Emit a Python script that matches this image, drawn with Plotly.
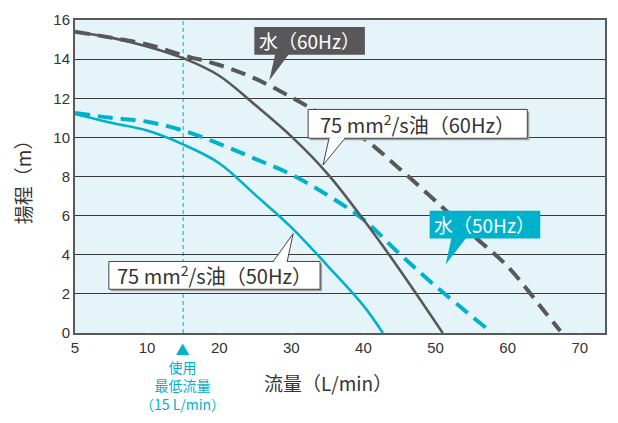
import plotly.graph_objects as go

# ---- data (flow L/min, head m) ----
water60_flow = [5, 7.5, 10, 15, 20, 25, 30, 35, 40, 45, 50, 55, 60, 65, 67.3]
water60_head = [15.4, 15.1, 14.75, 14.2, 13.7, 13.0, 12.05, 11.0, 9.95, 8.4, 6.75, 5.05, 3.4, 1.15, 0.1]

oil60_flow = [5, 7.5, 10, 15, 20, 25, 30, 35, 40, 45, 51]
oil60_head = [15.4, 15.1, 14.65, 14.05, 13.15, 11.65, 10.05, 8.15, 5.8, 3.25, 0]

water50_flow = [5, 7.5, 10, 15, 20, 25, 30, 35, 40, 45, 50, 57.2]
water50_head = [11.25, 11.0, 10.8, 10.35, 9.67, 8.9, 8.1, 7.05, 5.8, 4.05, 2.4, 0.2]

oil50_flow = [5, 7.5, 10, 15, 20, 25, 30, 35, 40, 42.7]
oil50_head = [11.2, 10.75, 10.35, 9.64, 8.68, 7.06, 5.4, 3.45, 1.4, 0]

x_ticks = [5, 10, 20, 30, 40, 50, 60, 70]
y_ticks = [0, 2, 4, 6, 8, 10, 12, 14, 16]
MIN_FLOW = 15

DARK = "#58585a"
CYAN = "#00b1cc"
JP = "Noto Sans CJK JP"

# broken x-axis: 5..10 drawn with the same width as 10..20
def tx(x):
    return x if x >= 10 else 10 - 2 * (10 - x)

def txs(xs):
    return [tx(v) for v in xs]

OFF = 8  # page body margin
W, H = 618 - 2 * OFF, 423 - 2 * OFF
L, R, T, B = 75 - OFF, 607 - OFF, 18 - OFF, 333 - OFF

def px(x):
    return (x - OFF - L) / (R - L)

def py(y):
    return (B - (y - OFF)) / (B - T)

SM = 1.0
fig = go.Figure()
fig.add_trace(go.Scatter(x=txs(oil50_flow), y=oil50_head, mode="lines",
                         line=dict(color=CYAN, width=2.6, shape="spline", smoothing=SM), hoverinfo="skip"))
fig.add_trace(go.Scatter(x=txs(water50_flow), y=water50_head, mode="lines",
                         line=dict(color=CYAN, width=4, dash="15px,8px", shape="spline", smoothing=SM), hoverinfo="skip"))
fig.add_trace(go.Scatter(x=txs(oil60_flow), y=oil60_head, mode="lines",
                         line=dict(color=DARK, width=2.6, shape="spline", smoothing=SM), hoverinfo="skip"))
fig.add_trace(go.Scatter(x=txs(water60_flow), y=water60_head, mode="lines",
                         line=dict(color=DARK, width=4, dash="15px,8px", shape="spline", smoothing=SM), hoverinfo="skip"))

shapes = []
shapes.append(dict(type="line", xref="x", yref="y", x0=tx(MIN_FLOW), x1=tx(MIN_FLOW), y0=0, y1=16,
                   line=dict(color=CYAN, width=1, dash="4px,3px"), layer="below"))

def box(x0, y0, x1, y1, fill, border):
    shapes.append(dict(type="rect", xref="paper", yref="paper",
                       x0=px(x0), x1=px(x1), y0=py(y1), y1=py(y0),
                       fillcolor=fill, line=dict(color=border, width=1 if border else 0)))

def tail(pts, fill, border):
    path = "M " + " L ".join(f"{px(a)},{py(b)}" for a, b in pts)
    shapes.append(dict(type="path", xref="paper", yref="paper", path=path,
                       fillcolor=fill, line=dict(color=border, width=1 if border else 0)))

box(311, 110, 531, 139, "#a0a0a0", None)
box(111, 263, 323, 291, "#a0a0a0", None)

box(255, 25, 366, 53, DARK, None)
tail([(276, 52), (270, 79), (290, 52)], DARK, None)

box(309, 108, 529, 137, "white", "#444444")
tail([(330, 137), (324, 164), (346, 137)], "white", "#444444")
shapes.append(dict(type="line", xref="paper", yref="paper", x0=px(331), x1=px(345), y0=py(137), y1=py(137),
                   line=dict(color="white", width=2)))

box(431, 210, 542, 238, CYAN, None)
tail([(453, 237), (447, 264), (468, 237)], CYAN, None)

box(109, 261, 321, 289, "white", "#444444")
tail([(274, 261), (294, 233), (288, 261)], "white", "#444444")
shapes.append(dict(type="line", xref="paper", yref="paper", x0=px(275), x1=px(287), y0=py(261), y1=py(261),
                   line=dict(color="white", width=2)))

annotations = []

def label(text, x, y, color, size=18, font=JP, angle=0):
    annotations.append(dict(text=text, xref="paper", yref="paper", x=px(x), y=py(y),
                            xanchor="center", yanchor="middle", showarrow=False, textangle=angle,
                            font=dict(family=font, size=size, color=color)))

label("水（60Hz）", 310.5, 39, "white", size=19)
label("75 mm<sup>2</sup>/s油（60Hz）", 419, 122.5, "#333333", size=20)
label("水（50Hz）", 486.5, 224, "white", size=19)
label("75 mm<sup>2</sup>/s油（50Hz）", 215, 275, "#333333", size=20)

label("▲<br>使用<br>最低流量<br>（15 L/min）", 183.3, 377, CYAN, size=14)

label("流量（L/min）", 329, 383, "#333333", size=19)
label("揚程（m）", 23, 176, "#333333", size=19, angle=-90)

fig.update_layout(
    width=W, height=H,
    margin=dict(l=L, r=W - R, t=T, b=H - B),
    paper_bgcolor="white",
    plot_bgcolor="#e4f4f8",
    showlegend=False,
    shapes=shapes,
    annotations=annotations,
    xaxis=dict(range=[0, 73.5], tickvals=txs(x_ticks), ticktext=[str(v) for v in x_ticks],
               showgrid=False, zeroline=False, showline=True, linecolor="#5a5a5a", linewidth=2, mirror=True,
               ticks="inside", tickcolor="white", ticklen=3, tickwidth=1,
               tickfont=dict(family="Liberation Sans", size=15, color="#333333")),
    yaxis=dict(range=[0, 16], tickvals=y_ticks, ticktext=[str(v) for v in y_ticks],
               showgrid=True, gridcolor="#3a3a3a", gridwidth=1, zeroline=False,
               showline=True, linecolor="#5a5a5a", linewidth=2, mirror=True, ticks="",
               tickfont=dict(family="Liberation Sans", size=15, color="#333333")),
)

fig.write_html("out.html")
